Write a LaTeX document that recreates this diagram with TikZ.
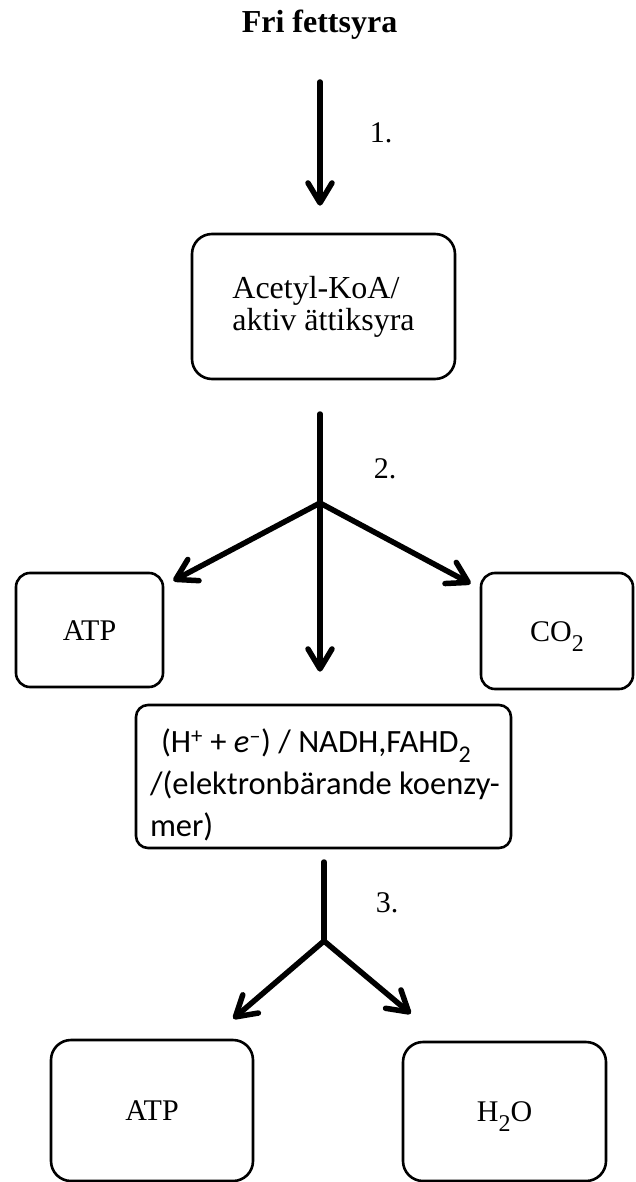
\documentclass[tikz,border=0pt]{standalone}
\usepackage{fontspec}
\setmainfont{Liberation Serif}
\newfontfamily\calibri{Carlito}
\usetikzlibrary{arrows.meta}

\newcommand{\lowsub}[1]{\raisebox{-10pt}{\fontsize{24}{24}\selectfont #1}}

\tikzset{
  box/.style={draw, line width=2.6pt, rounded corners=14pt},
  arr/.style={line width=5.5pt, line cap=round, -{Straight Barb[length=20pt,width=24pt,round]}},
  bar/.style={line width=5.5pt, line cap=round},
  lbl/.style={font=\fontsize{30}{34}\selectfont},
  boxlbl/.style={box, lbl, text height=20pt, text depth=0pt},
}

\begin{document}
\begin{tikzpicture}[x=1pt,y=-1pt]
        \useasboundingbox (0,0) rectangle (636,1182);

        \node[anchor=base, font=\fontsize{32}{36}\selectfont\bfseries] (title) at (319.5,33) {Fri fettsyra};

        % steg 1
        \coordinate (s1) at (320,82);
        \node[lbl, anchor=base] (n1) at (381,143) {1.};
        \node[box, rounded corners=20pt, minimum width=263pt, minimum height=145pt,
              align=left, font=\fontsize{32}{32}\selectfont] (acetyl) at (323.5,306.5)
              {Acetyl-KoA/\\aktiv ättiksyra};
        \draw[arr, shorten >=27pt] (s1) -- (s1 |- acetyl.north);

        % steg 2
        \coordinate (s2) at (320,414);
        \coordinate (j2) at (320,503);
        \node[lbl, anchor=base] (n2) at (385,478) {2.};
        \node[boxlbl, minimum width=147pt, minimum height=114pt] (atp1) at (89.5,630) {ATP};
        \node[boxlbl, minimum width=152pt, minimum height=116pt] (co2) at (557,631) {CO\lowsub{2}};
        \node[box, rounded corners=12pt, inner xsep=7pt, inner ysep=0pt,
              font=\calibri\fontsize{32.5}{42}\selectfont] (carrier) at (323.5,776.5)
              {\begin{minipage}[c][143pt][t]{361pt}\raggedright\vspace*{24pt}%
               \hspace*{18pt}(H\textsuperscript{+} + \textit{e}\textsuperscript{\textendash}) / NADH,FAHD\lowsub{2}\\
               \hspace*{7pt}/(elektronbärande koenzy-\\
               \hspace*{7pt}mer)\end{minipage}};
        \draw[arr, shorten >=32pt] (s2) -- (s2 |- carrier.north);
        \draw[arr] (j2) -- ([xshift=9pt,yshift=-9pt]atp1.north east);
        \draw[arr] (j2) -- ([xshift=-9pt,yshift=-12pt]co2.north west);

        % steg 3
        \coordinate (s3) at (324,862);
        \coordinate (j3) at (324,941);
        \node[lbl, anchor=base] (n3) at (387,912) {3.};
        \node[boxlbl, rounded corners=20pt, minimum width=202pt, minimum height=141pt] (atp2) at (152,1110.5) {ATP};
        \node[boxlbl, rounded corners=20pt, minimum width=203pt, minimum height=139pt] (water) at (504.5,1111.5) {H\lowsub{2}O};
        \draw[bar] (s3) -- (j3);
        \draw[arr] (j3) -- ([xshift=-21pt,yshift=20pt]atp2.north east);
        \draw[arr] (j3) -- ([xshift=9pt,yshift=27pt]water.north west);

\end{tikzpicture}
\end{document}
